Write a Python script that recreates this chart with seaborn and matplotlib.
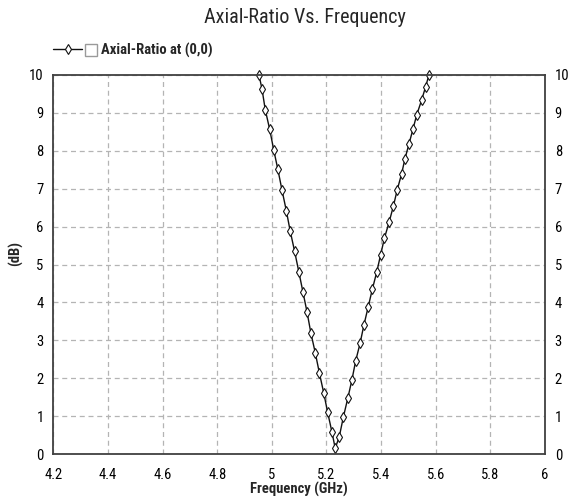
import matplotlib
matplotlib.use("Agg")
import matplotlib.pyplot as plt
import seaborn as sns
import pandas as pd
from matplotlib.patches import Rectangle

freq_ghz = [4.953, 4.964, 4.976, 4.992, 5.007, 5.022, 5.037, 5.053, 5.067, 5.083,
            5.099, 5.114, 5.129, 5.143, 5.159, 5.174, 5.190, 5.204, 5.220, 5.232,
            5.247, 5.262, 5.278, 5.293, 5.307, 5.323, 5.337, 5.353, 5.368, 5.384,
            5.398, 5.412, 5.429, 5.445, 5.459, 5.475, 5.487, 5.502, 5.517, 5.530,
            5.548, 5.563, 5.575]
axial_ratio_db = [10.0, 9.63, 9.08, 8.57, 8.02, 7.51, 6.97, 6.42, 5.89, 5.36,
                  4.80, 4.27, 3.74, 3.19, 2.67, 2.14, 1.61, 1.11, 0.58, 0.15,
                  0.46, 0.98, 1.47, 1.95, 2.46, 2.92, 3.40, 3.89, 4.35, 4.80,
                  5.25, 5.69, 6.11, 6.54, 6.97, 7.39, 7.78, 8.18, 8.58, 8.94,
                  9.33, 9.69, 10.0]
x_ticks = [4.2, 4.4, 4.6, 4.8, 5.0, 5.2, 5.4, 5.6, 5.8, 6.0]
x_tick_labels = ["4.2", "4.4", "4.6", "4.8", "5", "5.2", "5.4", "5.6", "5.8", "6"]
y_ticks = list(range(0, 11))
series_name = "Axial-Ratio at (0,0)"

sns.set_style("white")
FONT = ["Roboto Condensed", "Liberation Sans", "DejaVu Sans"]
plt.rcParams["font.family"] = FONT

df = pd.DataFrame({"Frequency": freq_ghz, "AR": axial_ratio_db})

fig = plt.figure(figsize=(5.70, 5.04), dpi=100)
W, H = 570, 504
ax = fig.add_axes([53.3 / W, 1 - 454 / H, (545 - 53.3) / W, (454 - 75) / H])

sns.lineplot(data=df, x="Frequency", y="AR", ax=ax, sort=False, color="#111111",
             linewidth=1.0, marker="d", markersize=5, markerfacecolor="white",
             markeredgecolor="#111111", markeredgewidth=0.8, clip_on=False,
             label=series_name, legend=False)

ax.set_xlim(4.2, 6.0)
ax.set_ylim(0, 10)
ax.set_xticks(x_ticks)
ax.set_xticklabels(x_tick_labels)
ax.set_yticks(y_ticks)
ax.grid(True, color="#b4b4b4", linestyle=(0, (4, 3)), linewidth=0.9)
for s in ax.spines.values():
    s.set_color("#404040")
    s.set_linewidth(1.3)
ax.tick_params(axis="both", length=0, labelsize=10.5, colors="black")
ax.tick_params(axis="y", right=True, labelright=True, pad=7)
ax.tick_params(axis="x", pad=10)

ax.set_xlabel("Frequency (GHz)", fontsize=10.5, fontweight="bold", labelpad=0)
ax.set_ylabel("(dB)", fontsize=10.5, fontweight="bold")
ax.yaxis.set_label_coords(-0.062, 0.53)

fig.suptitle("Axial-Ratio Vs. Frequency", fontsize=14.5, fontweight="normal",
             x=305 / W, y=1 - 8 / H, va="top")

handles, labels = ax.get_lines()[:1], [series_name]
leg = fig.legend(handles, labels, loc="center left",
                 bbox_to_anchor=(53.3 / W, 1 - 50 / H), bbox_transform=fig.transFigure,
                 frameon=False, borderpad=0, borderaxespad=0, handlelength=1.95,
                 handletextpad=1.35, prop={"family": FONT, "weight": "bold", "size": 10.5})

fig.add_artist(Rectangle((85 / W, 1 - 56 / H), 12 / W, 12 / H, transform=fig.transFigure,
                         facecolor="white", edgecolor="#9a9a9a", linewidth=1.0))

fig.savefig("out.png", dpi=100)
